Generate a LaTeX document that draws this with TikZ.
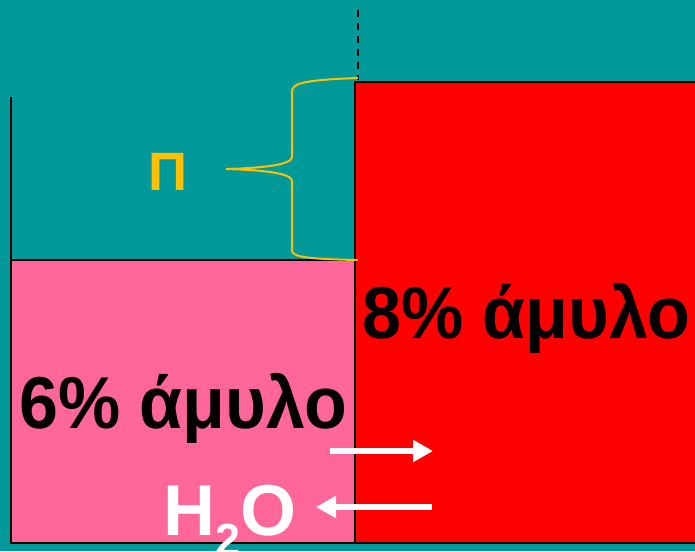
\documentclass[tikz,border=0pt]{standalone}
\usepackage{fontspec}
\setmainfont{Liberation Sans}
\usetikzlibrary{arrows.meta}
\definecolor{osTeal}{HTML}{009999}
\definecolor{osPink}{HTML}{FF6699}
\definecolor{osRed}{HTML}{FF0000}
\definecolor{osGold}{HTML}{FFC000}
\tikzset{
  os diagram/.style={font=\bfseries, line cap=butt, line join=miter},
  os wall/.style={draw=black, line width=2pt},
  os label/.style={inner sep=0pt, anchor=base west, text=black},
  os big/.style={os label, font=\fontsize{70}{70}\selectfont\bfseries},
  os flow/.style={-{Triangle[length=20pt,width=21pt]}, draw=white, line width=6pt},
  os brace/.style={draw=osGold, line width=2pt}
}
\begin{document}
\begin{tikzpicture}[os diagram,x=1pt,y=-1pt]
\useasboundingbox (0,0) rectangle (695,551);
\fill[osTeal] (0,0) rectangle (695,551);
% the two solutions
\fill[osPink] (11,260) rectangle (355,543);
\fill[osRed] (355,82) rectangle (695,543);
\draw[os wall] (11,97) -- (11,543) -- (695,543);
\draw[os wall] (11,260) -- (355,260);
\draw[os wall] (355,543) -- (355,82) -- (695,82);
\draw[os wall,dash pattern=on 7pt off 6pt] (358,10) -- (358,80);
% osmotic pressure
\coordinate (brace top) at (358,78);
\coordinate (brace bottom) at (358,260);
\coordinate (brace tip) at (226,169);
\draw[os brace] (brace top) .. controls (300,80) and (292,84) .. (292,92)
  -- (292,157) .. controls (292,165) and (262,168) .. (brace tip)
  .. controls (262,170) and (292,173) .. (292,181)
  -- (292,250) .. controls (292,256) and (300,259) .. (brace bottom);
\node[os label,text=osGold,font=\fontsize{54}{54}\selectfont\bfseries]
  (pi) at (148,190) {Π};
% concentrations
\node[os big] (high) at (362,338) {\scalebox{1}[1.05]{8\% άμυλο}};
\node[os big] (low) at (19,428) {\scalebox{1}[1.05]{6\% άμυλο}};
\node[os label,text=white,font=\fontsize{72}{72}\selectfont\bfseries]
  (water) at (163,535) {H\raisebox{-20pt}{\fontsize{45}{45}\selectfont 2}O};
% water flow
\coordinate (in start) at (330,451);
\coordinate (in end) at (433,451);
\coordinate (out start) at (432,507);
\coordinate (out end) at (316,507);
\draw[os flow] (in start) -- (in end);
\draw[os flow] (out start) -- (out end);
\end{tikzpicture}
\end{document}
